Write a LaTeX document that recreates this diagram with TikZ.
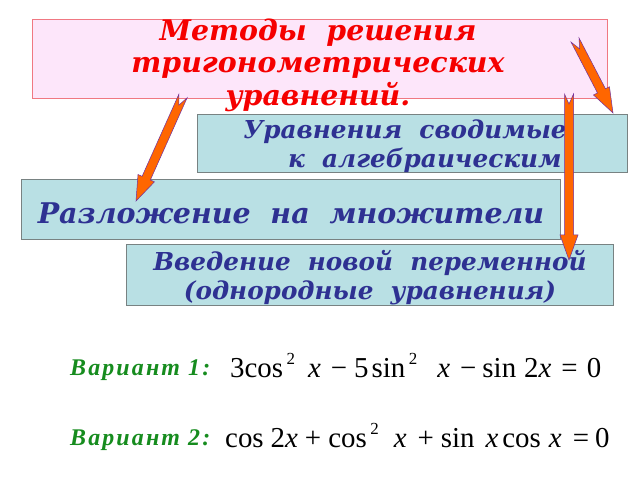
\documentclass[tikz,border=0pt]{standalone}
\usepackage{fontspec}
\setmainfont{DejaVu Serif}
\newfontfamily\eqfont{Liberation Serif}
\newfontfamily\varfont[LetterSpace=9]{Liberation Serif}
\usetikzlibrary{calc}
\definecolor{pinkbg}{RGB}{253,230,250}
\definecolor{pinkline}{RGB}{240,120,130}
\definecolor{bluebg}{RGB}{185,224,228}
\definecolor{grayline}{RGB}{120,130,130}
\definecolor{navytxt}{RGB}{46,49,146}
\definecolor{titlered}{RGB}{245,0,0}
\definecolor{greentxt}{RGB}{22,140,30}
\definecolor{arroworange}{RGB}{255,102,0}
\definecolor{arrowline}{RGB}{112,48,160}
%superscript two, gaps of the formulas, last line with no depth
\newcommand{\sq}{\kern3.5bp\raisebox{12.5bp}{\fontsize{17}{17}\selectfont 2}}
\newcommand{\gap}[1]{\hspace{#1bp}}
\newcommand{\nodepth}[1]{\raisebox{0pt}[\height][0pt]{#1}}
%notched block arrow from #1 to #2
\newcommand{\blockarrow}[2]{%
\coordinate (ba-h) at ($(#2)!25bp!(#1)$);
\coordinate (ba-n) at ($(#1)!10bp!(#2)$);
\filldraw[arrowstyle] ($(#1)!4.5bp!90:(#2)$) -- (ba-n) -- ($(#1)!4.5bp!-90:(#2)$)
  -- ($(ba-h)!4.5bp!-90:(#2)$) -- ($(ba-h)!9bp!-90:(#2)$) -- (#2)
  -- ($(ba-h)!9bp!90:(#2)$) -- ($(ba-h)!4.5bp!90:(#2)$) -- cycle;}

\begin{document}
\begin{tikzpicture}[x=1bp,y=-1bp,
  pinkbox/.style={draw=pinkline,fill=pinkbg,line width=0.8bp,inner sep=0pt},
  bluebox/.style={draw=grayline,fill=bluebg,line width=1bp,inner sep=0pt,
    text=navytxt,align=center},
  titletext/.style={text=titlered,font=\fontsize{28.5}{32.5}\selectfont\bfseries\itshape,align=center},
  vartext/.style={text=greentxt,font=\varfont\fontsize{24}{24}\selectfont\bfseries\itshape,
    anchor=base west,inner sep=0pt},
  eqtext/.style={font=\eqfont\fontsize{29}{29}\selectfont,anchor=base west,inner sep=0pt},
  arrowstyle/.style={fill=arroworange,draw=arrowline,line width=0.5bp,line join=miter}]
\useasboundingbox[fill=white] (0,0) rectangle (640,480);
%boxes
\node[pinkbox,minimum width=575bp,minimum height=79bp] (methods) at (319.5,58.5) {};
\node[titletext] (methodstext) at (318,65) {Методы\ \ решения\\тригонометрических\\уравнений.};
\node[bluebox,minimum width=430bp,minimum height=58bp,
  font=\fontsize{24.8}{29}\selectfont\bfseries\itshape] (algebra) at (412,144)
  {Уравнения\ \ сводимые\rule{14bp}{0pt}\\\nodepth{\ \ \ к\ \ алгебраическим}};
\node[bluebox,minimum width=538bp,minimum height=59bp,
  font=\fontsize{28.6}{28.6}\selectfont\bfseries\itshape] (factor) at (291,209.5)
  {\rule{0pt}{28bp}Разложение\ \ на\ \ множители};
\node[bluebox,minimum width=486bp,minimum height=60bp,
  font=\fontsize{24.8}{29}\selectfont\bfseries\itshape] (newvar) at (370,275)
  {Введение\ \ новой\ \ переменной\\\nodepth{(однородные\ \ уравнения)}};
%arrows
\coordinate (tailA) at (183,96);
\coordinate (tipA) at (136,201);
\coordinate (tailB) at (575,40);
\coordinate (tipB) at (613,113);
\coordinate (tailC) at (569,94);
\coordinate (tipC) at (569,260);
\blockarrow{tailA}{tipA}
\blockarrow{tailB}{tipB}
\blockarrow{tailC}{tipC}
%variants
\node[vartext] (var1) at (70,375) {Вариант 1:};
\node[eqtext] (eq1) at (230,377) {3cos\sq\gap{13}\textit{x}\gap{10}−\gap{7}5\gap{3}sin\sq\gap{20}\textit{x}\gap{10}−\gap{6}sin\gap{8}2\textit{x}\gap{10}=\gap{9}0};
\node[vartext] (var2) at (70,445) {Вариант 2:};
\node[eqtext] (eq2) at (225,447) {cos\gap{7}2\textit{x}\gap{7}+\gap{7}cos\sq\gap{15}\textit{x}\gap{11}+\gap{7}sin\gap{11}\textit{x}\gap{4}cos\gap{8}\textit{x}\gap{11}=\gap{6}0};
\end{tikzpicture}
\end{document}
